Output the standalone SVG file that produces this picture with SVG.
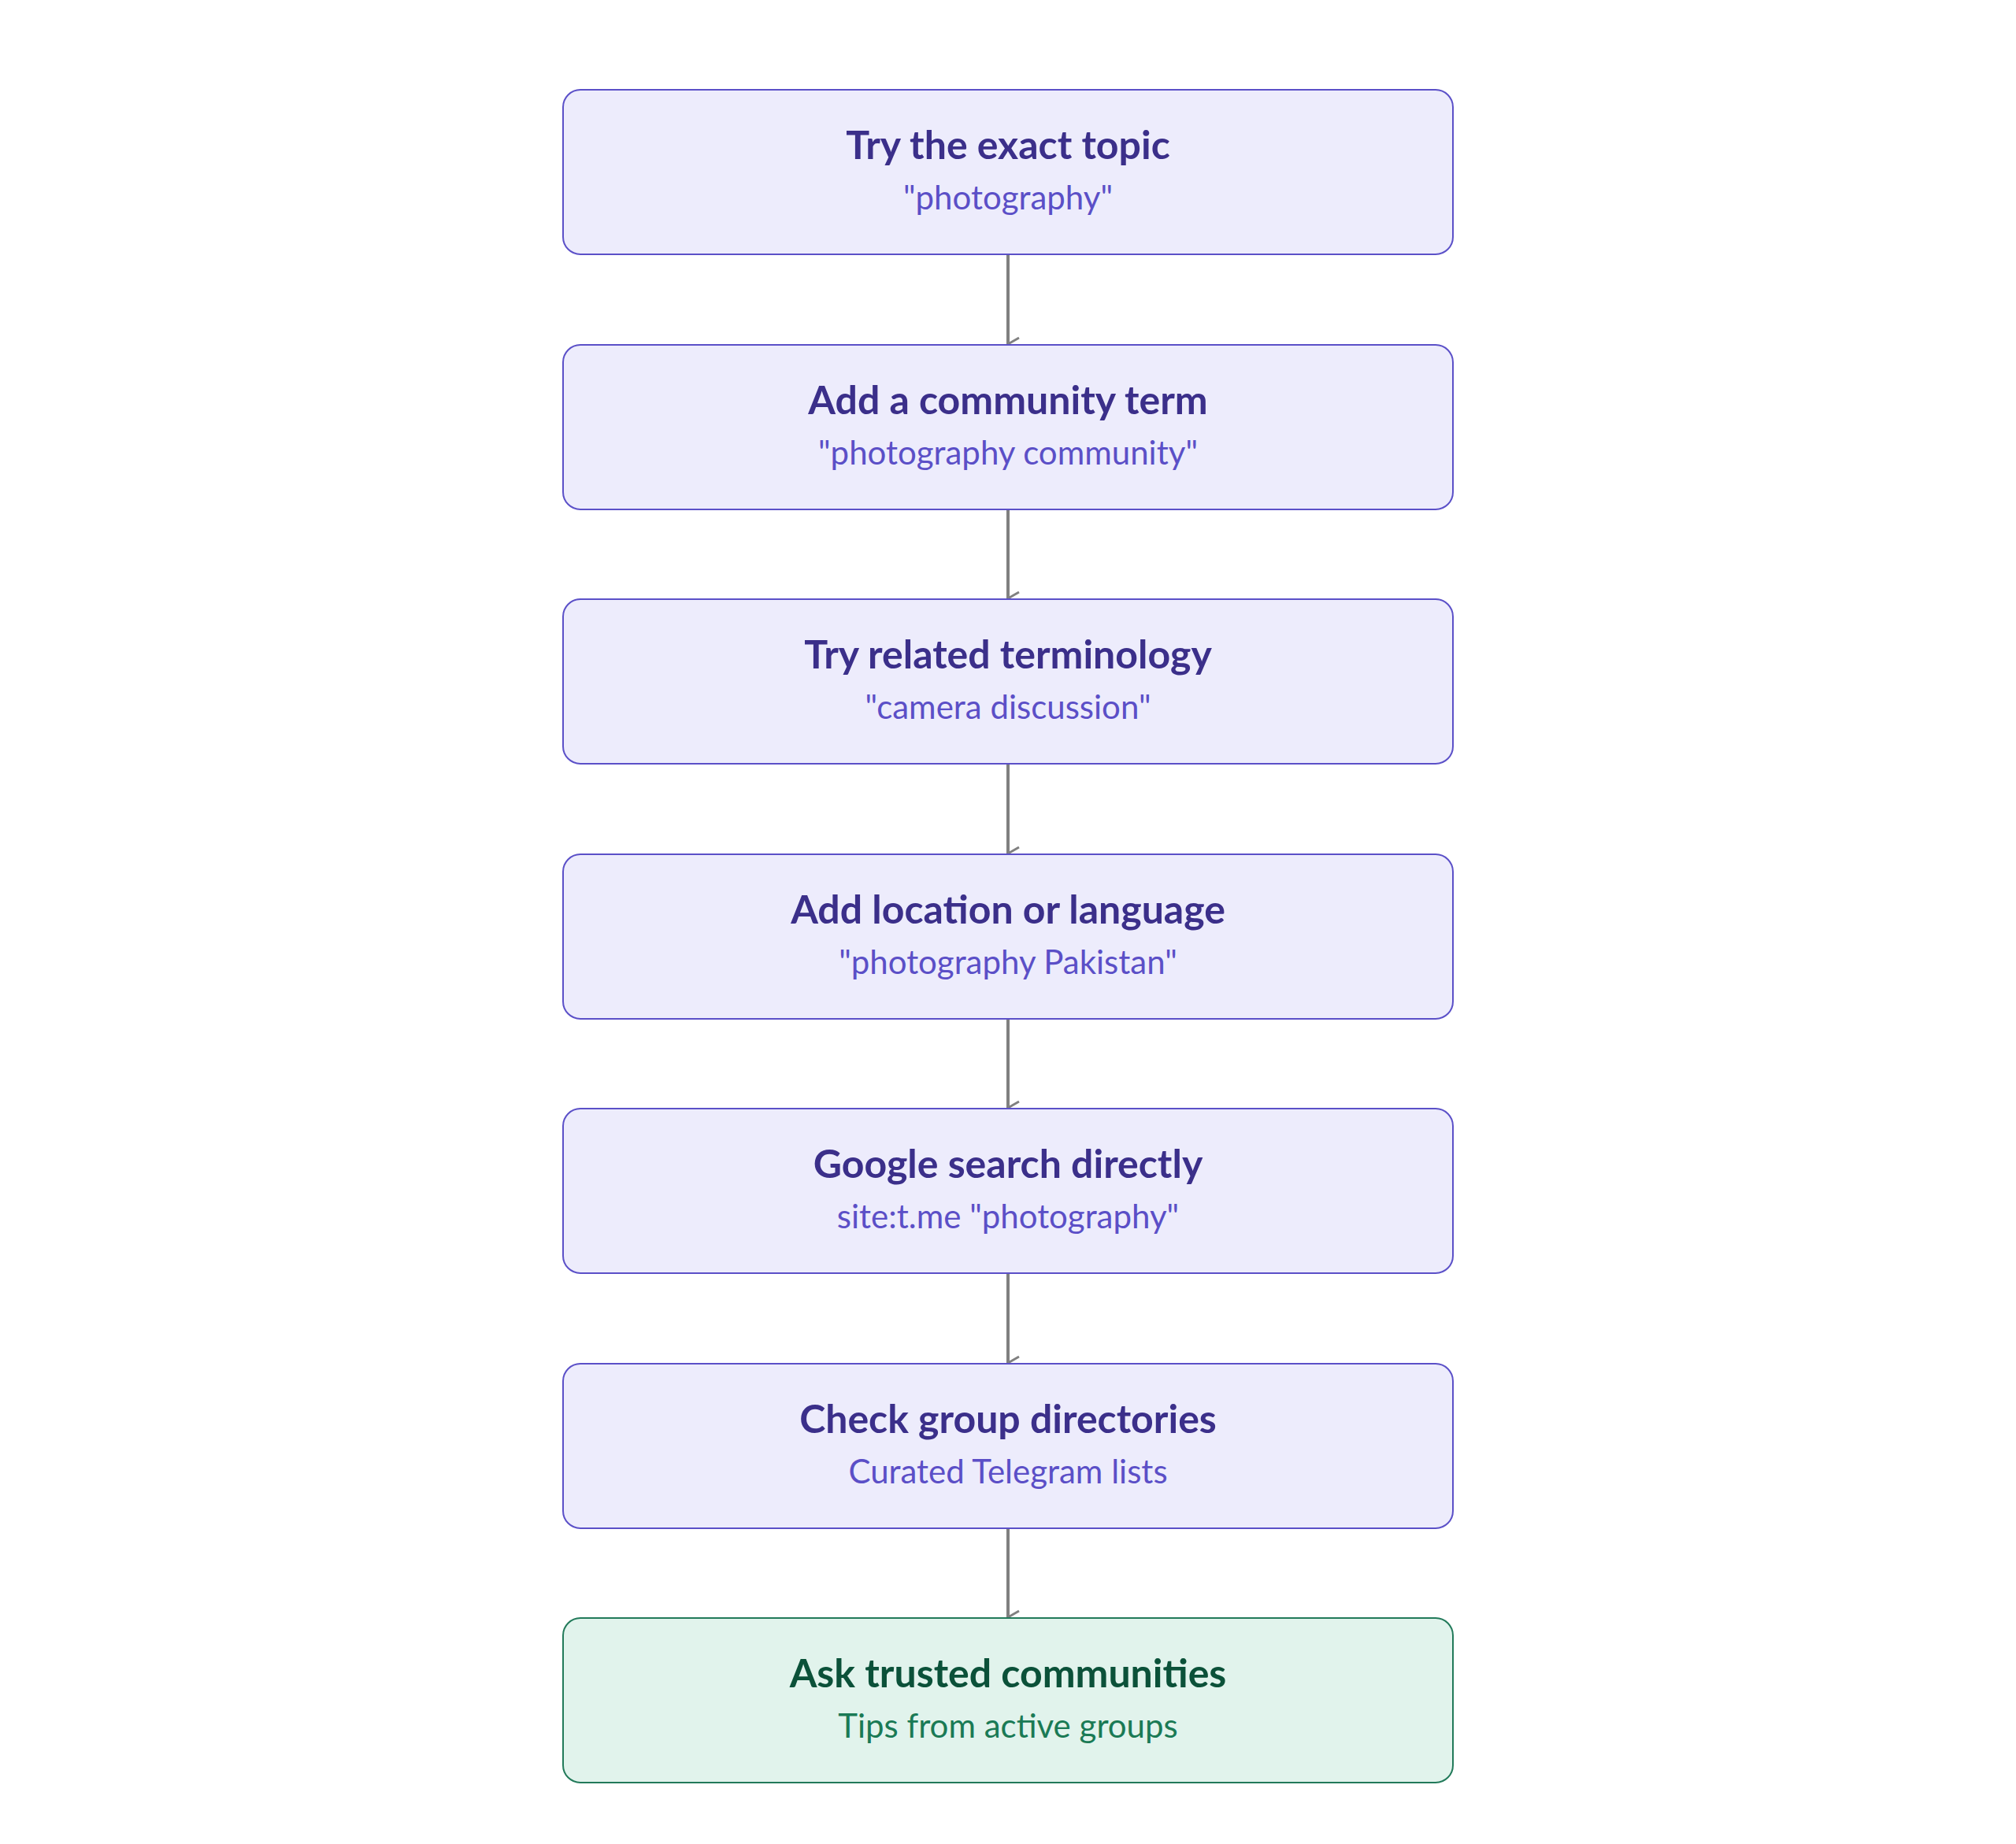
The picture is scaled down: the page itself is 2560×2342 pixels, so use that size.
<svg xmlns="http://www.w3.org/2000/svg" width="2560" height="2342" viewBox="0 0 2560 2342">
<style>
.b{fill:#EDECFC;stroke:#5B50C8;stroke-width:2}
.g{fill:#E1F3EC;stroke:#227A5A;stroke-width:2}
.t{font-family:Lato,"Open Sans",sans-serif;font-weight:bold;font-size:50px;fill:#3B2F8A;text-anchor:middle}
.s{font-family:Lato,"Open Sans",sans-serif;font-size:42px;fill:#5B4FC7;text-anchor:middle}
.gt{fill:#0B5139}.gs{fill:#1A7A55}
.c{stroke:#808080;stroke-width:4;fill:none}
</style>
<defs><marker id="a" viewBox="0 0 20 20" refX="10" refY="18" markerWidth="20" markerHeight="20" markerUnits="userSpaceOnUse" orient="auto-start-reverse"><path d="M2 4 L10 18 L18 4" fill="none" stroke="#808080" stroke-width="3"/></marker></defs>
<g id="connectors">
<line class="c" x1="1280" y1="323" x2="1280" y2="437" marker-end="url(#a)"/>
<line class="c" x1="1280" y1="647" x2="1280" y2="760" marker-end="url(#a)"/>
<line class="c" x1="1280" y1="970" x2="1280" y2="1084" marker-end="url(#a)"/>
<line class="c" x1="1280" y1="1294" x2="1280" y2="1407" marker-end="url(#a)"/>
<line class="c" x1="1280" y1="1617" x2="1280" y2="1731" marker-end="url(#a)"/>
<line class="c" x1="1280" y1="1941" x2="1280" y2="2054" marker-end="url(#a)"/>
</g>
<g id="n1"><rect class="b" x="715" y="114" width="1130" height="209" rx="22"/><text class="t" x="1280" y="202">Try the exact topic</text><text class="s" x="1280" y="266">"photography"</text></g>
<g id="n2"><rect class="b" x="715" y="438" width="1130" height="209" rx="22"/><text class="t" x="1280" y="526">Add a community term</text><text class="s" x="1280" y="590">"photography community"</text></g>
<g id="n3"><rect class="b" x="715" y="761" width="1130" height="209" rx="22"/><text class="t" x="1280" y="849">Try related terminology</text><text class="s" x="1280" y="913">"camera discussion"</text></g>
<g id="n4"><rect class="b" x="715" y="1085" width="1130" height="209" rx="22"/><text class="t" x="1280" y="1173">Add location or language</text><text class="s" x="1280" y="1237">"photography Pakistan"</text></g>
<g id="n5"><rect class="b" x="715" y="1408" width="1130" height="209" rx="22"/><text class="t" x="1280" y="1496">Google search directly</text><text class="s" x="1280" y="1560">site:t.me "photography"</text></g>
<g id="n6"><rect class="b" x="715" y="1732" width="1130" height="209" rx="22"/><text class="t" x="1280" y="1820">Check group directories</text><text class="s" x="1280" y="1884">Curated Telegram lists</text></g>
<g id="n7"><rect class="g" x="715" y="2055" width="1130" height="209" rx="22"/><text class="t gt" x="1280" y="2143">Ask trusted communities</text><text class="s gs" x="1280" y="2207">Tips from active groups</text></g>
</svg>
